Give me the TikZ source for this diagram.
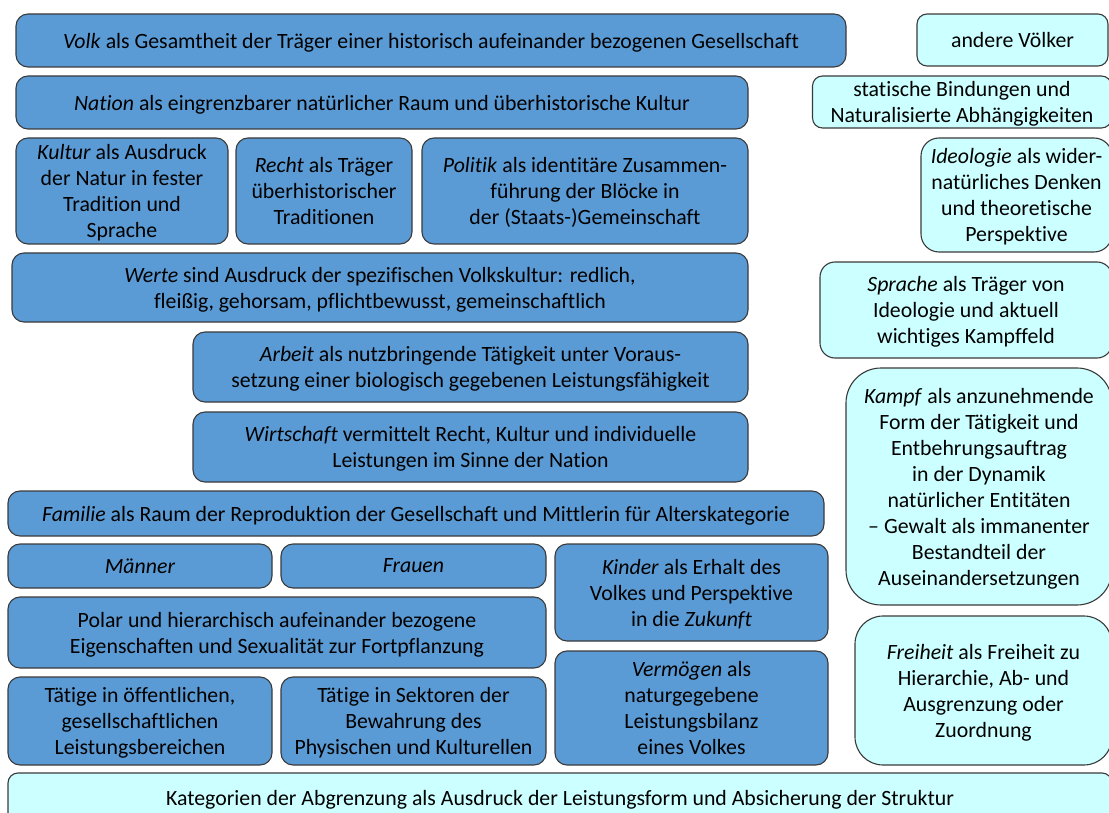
\documentclass[tikz,border=0pt]{standalone}
\usepackage{fontspec}
\setmainfont{Carlito}[Ligatures={TeX,NoCommon}]
\usepackage{tikz}
\usetikzlibrary{positioning}

\definecolor{blaufeld}{HTML}{5B9BD5}
\definecolor{tuerkisfeld}{HTML}{CCFFFF}
\definecolor{randgrau}{HTML}{3A3A3A}

\tikzset{
  kasten/.style={draw=randgrau, line width=1.1pt, rounded corners=12pt, align=center,
    inner sep=2pt, text depth=0pt, font=\fontsize{21.8}{26}\selectfont},
  blau/.style={kasten, fill=blaufeld},
  hell/.style={kasten, fill=tuerkisfeld},
}

\begin{document}
\begin{tikzpicture}[x=1pt,y=-1pt]
        \useasboundingbox (0,0) rectangle (1109,813);
        \clip (0,0) rectangle (1109,813);
        % linke Spalte: Volk und Nation
        \node[blau, minimum width=830pt, minimum height=53pt] (volk) at (431,40.5)
            {\textit{Volk} als Gesamtheit der Träger einer historisch aufeinander bezogenen Gesellschaft};
        \node[blau, minimum width=732pt, minimum height=53pt] (nation) at (382,102.5)
            {\textit{Nation} als eingrenzbarer natürlicher Raum und überhistorische Kultur};
        \node[blau, minimum width=212pt, minimum height=106pt] (kultur) at (122,191)
            {\textit{Kultur} als Ausdruck\\der Natur in fester\\Tradition und\\Sprache};
        \node[blau, minimum width=176pt, minimum height=106pt] (recht) at (324,191)
            {\textit{Recht} als Träger\\überhistorischer\\Traditionen};
        \node[blau, minimum width=326pt, minimum height=106pt] (politik) at (585,191)
            {\textit{Politik} als identitäre Zusammen-\\führung der Blöcke in\\der (Staats-)Gemeinschaft};
        \node[blau, minimum width=736pt, minimum height=69pt] (werte) at (380,287.5)
            {\textit{Werte} sind Ausdruck der spezifischen Volkskultur: redlich,\\fleißig, gehorsam, pflichtbewusst, gemeinschaftlich};
        \node[blau, minimum width=555pt, minimum height=70pt] (arbeit) at (470.5,367)
            {\textit{Arbeit} als nutzbringende Tätigkeit unter Voraus-\\setzung einer biologisch gegebenen Leistungsfähigkeit};
        \node[blau, minimum width=555pt, minimum height=70pt] (wirtschaft) at (470.5,447)
            {\textit{Wirtschaft} vermittelt Recht, Kultur und individuelle\\Leistungen im Sinne der Nation};
        % Familie und Geschlechter
        \node[blau, minimum width=816pt, minimum height=45pt] (familie) at (416,513.5)
            {\textit{Familie} als Raum der Reproduktion der Gesellschaft und Mittlerin für Alterskategorie};
        \node[blau, minimum width=264pt, minimum height=44pt] (maenner) at (140,566)
            {\textit{Männer}};
        \node[blau, minimum width=265pt, minimum height=44pt] (frauen) at (413.5,566)
            {\textit{Frauen}};
        \node[blau, minimum width=273pt, minimum height=97pt] (kinder) at (691.5,592.5)
            {\textit{Kinder} als Erhalt des\\Volkes und Perspektive\\in die \textit{Zukunft}};
        \node[blau, minimum width=538pt, minimum height=71pt] (polar) at (277,632.5)
            {Polar und hierarchisch aufeinander bezogene\\Eigenschaften und Sexualität zur Fortpflanzung};
        \node[blau, minimum width=273pt, minimum height=114pt] (vermoegen) at (691.5,708)
            {\textit{Vermögen} als\\naturgegebene\\Leistungsbilanz\\eines Volkes};
        \node[blau, minimum width=264pt, minimum height=88pt] (taetigA) at (140,721)
            {Tätige in öffentlichen,\\gesellschaftlichen\\Leistungsbereichen};
        \node[blau, minimum width=265pt, minimum height=88pt] (taetigB) at (413.5,721)
            {Tätige in Sektoren der\\Bewahrung des\\Physischen und Kulturellen};
        % rechte Spalte
        \node[hell, rounded corners=10pt, minimum width=191pt, minimum height=52pt] (andere) at (1012.5,40)
            {andere Völker};
        \node[hell, rounded corners=10pt, minimum width=299pt, minimum height=52pt] (statisch) at (962,102)
            {statische Bindungen und\\Naturalisierte Abhängigkeiten};
        \node[hell, rounded corners=18pt, minimum width=191pt, minimum height=114pt] (ideologie) at (1016.5,195)
            {\textit{Ideologie} als wider-\\natürliches Denken\\und theoretische\\Perspektive};
        \node[hell, rounded corners=15pt, minimum width=292pt, minimum height=96pt] (sprache) at (966,310)
            {\textit{Sprache} als Träger von\\Ideologie und aktuell\\wichtiges Kampffeld};
        \node[hell, rounded corners=35pt, minimum width=266pt, minimum height=237pt] (kampf) at (979,486.5)
            {\textit{Kampf} als anzunehmende\\Form der Tätigkeit und\\Entbehrungsauftrag\\in der Dynamik\\natürlicher Entitäten\\-- Gewalt als immanenter\\Bestandteil der\\Auseinandersetzungen};
        \node[hell, rounded corners=28pt, minimum width=257pt, minimum height=149pt] (freiheit) at (983.5,690.5)
            {\textit{Freiheit} als Freiheit zu\\Hierarchie, Ab- und\\Ausgrenzung oder\\Zuordnung};
        % Grundlage
        \node[hell, rounded corners=10pt, minimum width=1104pt, minimum height=50pt] (kategorien) at (560,798)
            {Kategorien der Abgrenzung als Ausdruck der Leistungsform und Absicherung der Struktur};
\end{tikzpicture}
\end{document}
